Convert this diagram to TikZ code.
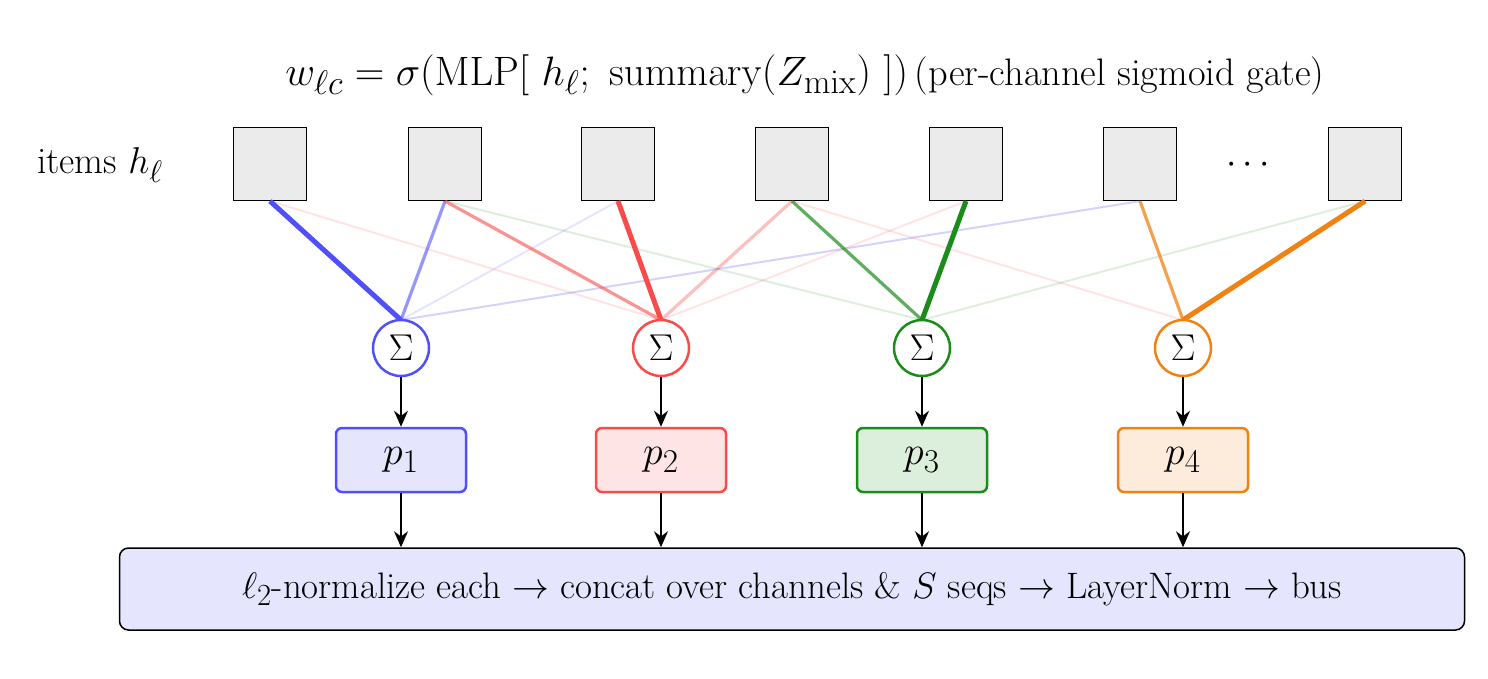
\documentclass[tikz,border=0pt]{standalone}
\usepackage{graphicx}
\usetikzlibrary{arrows.meta}
\definecolor{cb}{RGB}{80,80,250}
\definecolor{cr}{RGB}{250,75,75}
\definecolor{cg}{RGB}{25,140,25}
\definecolor{co}{RGB}{240,130,20}
\begin{document}
\begin{tikzpicture}[x=1pt,y=-1pt,
 item/.style={draw,fill=black!8,minimum size=73pt,line width=1.2pt},
 sumn/.style={circle,draw,line width=2.5pt,minimum size=56pt,inner sep=0pt,fill=white},
 pbox/.style={draw,rounded corners=6pt,line width=2.5pt,minimum width=130pt,minimum height=64pt},
 arr/.style={-{Stealth[length=16pt,width=14pt]},line width=1.6pt},
 strong/.style={line width=5pt},
 mid/.style={line width=3.2pt,opacity=0.6},
 faint/.style={line width=2pt,opacity=0.15}]
\useasboundingbox (0,0) rectangle (1488,678);
\node (title) at (805,75) {\scalebox{1.65}{\Huge $w_{\ell c}=\sigma\bigl(\mathrm{MLP}[\ h_\ell;\ \mathrm{summary}(Z_{\mathrm{mix}})\ ]\bigr)$}\ \ \scalebox{1.85}{\huge(per-channel sigmoid gate)}};
\node (lab) at (100,165) {\scalebox{1.5}{\Huge items $h_\ell$}};
\foreach \i/\x in {1/270,2/445,3/618,4/792,5/966,6/1140,7/1365}
  \node[item] (s\i) at (\x,164) {};
\node (dots) at (1248,165) {\scalebox{1.5}{\Huge $\cdots$}};
\foreach \j/\x in {1/401,2/661,3/922,4/1183}
  \coordinate (t\j) at (\x,320);
% faint lines
\draw[faint,cb] (s3.south) -- (t1); \draw[faint,cb,opacity=0.25] (s6.south) -- (t1);
\draw[faint,cr] (s1.south) -- (t2); \draw[faint,cr] (s5.south) -- (t2);
\draw[faint,cg] (s2.south) -- (t3); \draw[faint,cg] (s7.south) -- (t3);
\draw[faint,cr] (s4.south) -- (t4);
% medium
\draw[mid,cb] (s2.south) -- (t1);
\draw[mid,cr,opacity=0.35] (s4.south) -- (t2);
\draw[mid,cr] (s2.south) -- (t2);
\draw[mid,cg,opacity=0.7] (s4.south) -- (t3);
\draw[mid,co,opacity=0.75] (s6.south) -- (t4);
% strong
\draw[strong,cb] (s1.south) -- (t1);
\draw[strong,cr] (s3.south) -- (t2);
\draw[strong,cg] (s5.south) -- (t3);
\draw[strong,co] (s7.south) -- (t4);
\node (bus) [draw,rounded corners=9pt,line width=1.5pt,fill=cb!15,minimum width=1345pt,minimum height=82pt] at (792,589) {\scalebox{1.48}{\Huge $\ell_2$-normalize each $\rightarrow$ concat over channels \& $S$ seqs $\rightarrow$ LayerNorm $\rightarrow$ bus}};
\foreach \j/\x/\c in {1/401/cb,2/661/cr,3/922/cg,4/1183/co}{
  \node[sumn,draw=\c] (g\j) at (\x,348) {\scalebox{1.5}{\Huge $\Sigma$}};
  \node[pbox,draw=\c,fill=\c!15] (p\j) at (\x,460) {\scalebox{1.6}{\Huge $p_{\j}$}};
  \draw[arr] (g\j) -- (p\j);
  \draw[arr] (p\j) -- (p\j|-bus.north);
}
\end{tikzpicture}
\end{document}
